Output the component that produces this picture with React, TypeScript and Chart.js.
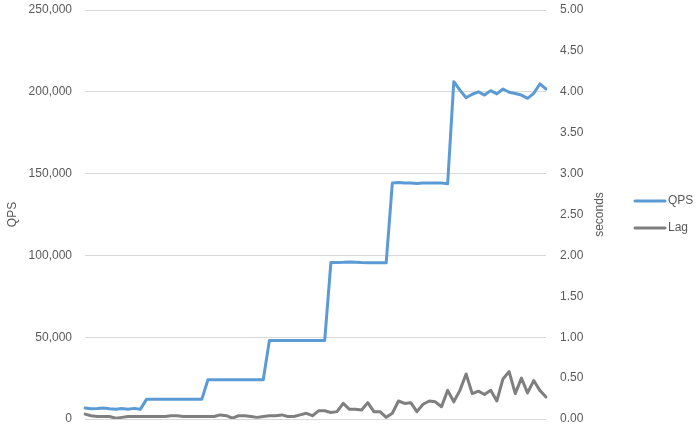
import React, { useEffect, useRef } from "react";
import { Chart, registerables } from "chart.js";

Chart.register(...registerables);

const categories: string[] = [
  "1","2","3","4","5","6","7","8","9","10",
  "11","12","13","14","15","16","17","18","19","20",
  "21","22","23","24","25","26","27","28","29","30",
  "31","32","33","34","35","36","37","38","39","40",
  "41","42","43","44","45","46","47","48","49","50",
  "51","52","53","54","55","56","57","58","59","60",
  "61","62","63","64","65","66","67","68","69","70",
  "71","72","73","74","75","76",
];

const qps: number[] = [
  6700, 6200, 6400, 6700, 6200, 5900, 6400, 6000, 6500, 5900,
  12000, 12000, 12000, 12000, 12000, 12000, 12000, 12000, 12000, 12000,
  24000, 24000, 24000, 24000, 24000, 24000, 24000, 24000, 24000, 24000,
  48000, 48000, 48000, 48000, 48000, 48000, 48000, 48000, 48000, 48000,
  95600, 95700, 95800, 96000, 95800, 95600, 95500, 95500, 95500, 95500,
  144200, 144500, 144300, 144300, 144000, 144200, 144300, 144300, 144200, 143800,
  206200, 201000, 196400, 198500, 200000, 198000, 200700, 198700, 201700, 199700,
  199000, 198000, 196000, 199000, 204800, 201700,
];

const lag: number[] = [
  0.06, 0.04, 0.03, 0.03, 0.03, 0.01, 0.02, 0.03, 0.03, 0.03,
  0.03, 0.03, 0.03, 0.03, 0.04, 0.04, 0.03, 0.03, 0.03, 0.03,
  0.03, 0.03, 0.05, 0.04, 0.01, 0.04, 0.04, 0.03, 0.02, 0.03,
  0.04, 0.04, 0.05, 0.03, 0.03, 0.05, 0.07, 0.04, 0.10, 0.10,
  0.08, 0.09, 0.19, 0.12, 0.12, 0.11, 0.20, 0.09, 0.09, 0.02,
  0.07, 0.22, 0.19, 0.20, 0.09, 0.18, 0.22, 0.21, 0.15, 0.35,
  0.21, 0.35, 0.55, 0.31, 0.34, 0.30, 0.35, 0.22, 0.49, 0.58,
  0.31, 0.50, 0.32, 0.47, 0.35, 0.27,
];

const seriesNames = ["QPS", "Lag"];
const seriesColors = ["#5b9bd5", "#7f7f7f"];
const leftTitle = "QPS";
const rightTitle = "seconds";

const FONT = "'Liberation Sans', Arial, sans-serif";
const TEXT = "#595959";

export default function App() {
  const ref = useRef<HTMLCanvasElement | null>(null);

  useEffect(() => {
    if (!ref.current) return;
    const extras = {
      id: "extras",
      afterDraw(chart: any) {
        const ctx = chart.ctx;
        const area = chart.chartArea;
        ctx.save();
        ctx.font = `12px ${FONT}`;
        ctx.fillStyle = TEXT;
        ctx.textAlign = "center";
        ctx.textBaseline = "middle";
        ctx.translate(600, (area.top + area.bottom) / 2);
        ctx.rotate(-Math.PI / 2);
        ctx.fillText(rightTitle, 0, 0);
        ctx.restore();
        ctx.save();
        ctx.font = `12px ${FONT}`;
        ctx.textAlign = "left";
        ctx.textBaseline = "middle";
        const ys = [201, 228];
        seriesNames.forEach((name, i) => {
          ctx.strokeStyle = seriesColors[i];
          ctx.lineWidth = 3;
          ctx.lineCap = "round";
          ctx.beginPath();
          ctx.moveTo(635, ys[i]);
          ctx.lineTo(665, ys[i]);
          ctx.stroke();
          ctx.fillStyle = TEXT;
          ctx.fillText(name, 668, ys[i]);
        });
        ctx.restore();
      },
    };

    const chart = new Chart(ref.current, {
      type: "line",
      data: {
        labels: categories,
        datasets: [
          {
            label: seriesNames[0],
            data: qps,
            yAxisID: "y",
            borderColor: seriesColors[0],
            backgroundColor: seriesColors[0],
            borderWidth: 3,
            pointRadius: 0,
            tension: 0,
            borderJoinStyle: "round",
            borderCapStyle: "round",
            order: 2,
          },
          {
            label: seriesNames[1],
            data: lag,
            yAxisID: "y1",
            borderColor: seriesColors[1],
            backgroundColor: seriesColors[1],
            borderWidth: 3,
            pointRadius: 0,
            tension: 0,
            borderJoinStyle: "round",
            borderCapStyle: "round",
            order: 1,
          },
        ],
      },
      options: {
        responsive: false,
        animation: false,
        layout: { padding: { top: 10, bottom: 12, left: 0, right: 70 } },
        plugins: { legend: { display: false }, tooltip: { enabled: false } },
        scales: {
          x: { display: false, offset: false },
          y: {
            position: "left",
            min: 0,
            max: 250000,
            ticks: {
              stepSize: 50000,
              color: TEXT,
              font: { family: FONT, size: 12 },
              padding: 13,
              callback: (v: any) => Number(v).toLocaleString("en-US"),
            },
            grid: { color: "#d9d9d9", drawTicks: false, lineWidth: 1 },
            border: { display: false },
            title: {
              display: true,
              text: leftTitle,
              color: TEXT,
              font: { family: FONT, size: 12 },
              padding: { top: 5, bottom: 0 },
            },
            afterFit: (s: any) => {
              s.width = 85;
              s.paddingTop = 0;
              s.paddingBottom = 0;
            },
          },
          y1: {
            position: "right",
            min: 0,
            max: 5,
            ticks: {
              stepSize: 0.5,
              color: TEXT,
              font: { family: FONT, size: 12 },
              padding: 14,
              callback: (v: any) => Number(v).toFixed(2),
            },
            grid: { display: false, drawTicks: false },
            border: { display: false },
            afterFit: (s: any) => {
              s.width = 84;
              s.paddingTop = 0;
              s.paddingBottom = 0;
            },
          },
        },
      },
      plugins: [extras],
    } as any);
    return () => chart.destroy();
  }, []);

  return (
    <div style={{ position: "fixed", left: 0, top: 0, width: 700, height: 431, background: "#fff" }}>
      <canvas ref={ref} width={700} height={431} />
    </div>
  );
}
